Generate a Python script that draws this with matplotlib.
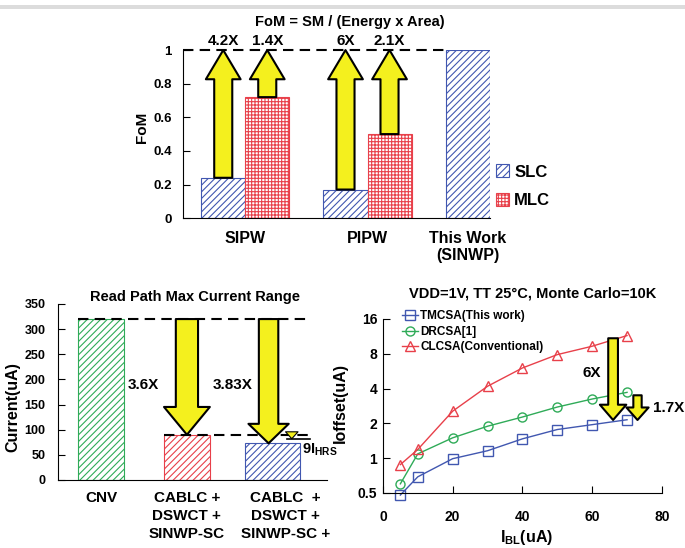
import numpy as np
import matplotlib
matplotlib.use('Agg')
import matplotlib.pyplot as plt
from matplotlib.patches import Rectangle
from matplotlib.ticker import NullLocator

# ---- FoM chart (top)
fom_groups = ['SIPW', 'PIPW', 'This Work\n(SINWP)']
fom_slc = [0.24, 0.17, 1.0]
fom_mlc = [0.72, 0.50]
fom_gain_slc = ['4.2X', '6X']
fom_gain_mlc = ['1.4X', '2.1X']

# ---- read path current (bottom left)
cur_names = ['CNV', 'CABLC +\nDSWCT +\nSINWP-SC', 'CABLC  +\nDSWCT +\nSINWP-SC +']
cur_vals = [320, 90, 73]
cur_gain = ['3.6X', '3.83X']
hrs_level = 82

# ---- offset vs I_BL (bottom right)
ibl = [5, 10, 20, 30, 40, 50, 60, 70]
off_tmcsa = [0.48, 0.69, 0.99, 1.16, 1.47, 1.77, 1.95, 2.15]
off_drcsa = [0.60, 1.09, 1.50, 1.89, 2.27, 2.77, 3.25, 3.71]
off_clcsa = [0.88, 1.19, 2.55, 4.19, 6.03, 7.87, 9.30, 11.5]

plt.rcParams['font.family'] = ['Liberation Sans', 'DejaVu Sans']
plt.rcParams['font.weight'] = 'bold'
plt.rcParams['axes.labelweight'] = 'bold'
plt.rcParams['hatch.linewidth'] = 0.8
plt.rcParams['mathtext.fontset'] = 'custom'
plt.rcParams['mathtext.rm'] = 'Liberation Sans:bold'
plt.rcParams['mathtext.bf'] = 'Liberation Sans:bold'
plt.rcParams['mathtext.it'] = 'Liberation Sans:bold'

BLUE = '#4157b0'
RED = '#e8404a'
GREEN = '#2fab58'
YEL = '#f4f01e'


def block_arrow(ax, x, y0, y1, tail, hw, hl, lw=1.5):
    ax.annotate('', xy=(x, y1), xytext=(x, y0),
                arrowprops=dict(arrowstyle='simple,head_length=%g,head_width=%g,tail_width=%g' % (hl, hw, tail),
                                mutation_scale=1, fc=YEL, ec='black', lw=lw,
                                shrinkA=0, shrinkB=0),
                annotation_clip=False)


fig = plt.figure(figsize=(6.85, 5.48), dpi=100)
fig.add_artist(Rectangle((0, 1 - 9 / 548), 1, 4 / 548, transform=fig.transFigure,
                         color='#dcdcdc', lw=0))

# ================= top chart
ax1 = fig.add_axes([0.267, 0.602, 0.448, 0.3066])
w = 0.36
idx = np.arange(len(fom_groups))
ax1.bar(idx - w / 2, fom_slc, w, facecolor='white', edgecolor=BLUE, hatch='/////',
        lw=0.8, label='SLC')
ax1.bar(idx[:2] + w / 2, fom_mlc, w, facecolor='white', edgecolor=RED, hatch='+++++',
        lw=0.8, label='MLC')
ax1.set_xlim(-0.51, 2.0)
ax1.set_ylim(0, 1)
ax1.plot([-0.51, 2 - w], [1, 1], color='black', lw=1.5, ls=(0, (5, 3)), clip_on=False)
for i in range(2):
    block_arrow(ax1, i - w / 2, fom_slc[i], 1.0, 13, 25, 21)
    block_arrow(ax1, i + w / 2, fom_mlc[i], 1.0, 13, 25, 21)
    ax1.text(i - w / 2, 1.01, fom_gain_slc[i], ha='center', va='bottom', fontsize=11)
    ax1.text(i + w / 2, 1.01, fom_gain_mlc[i], ha='center', va='bottom', fontsize=11)
ax1.set_xticks([0, 1, 2 - w / 2])
ax1.set_xticklabels(fom_groups, fontsize=11.5)
ax1.tick_params(axis='x', length=0, pad=9)
ax1.set_yticks([0, 0.2, 0.4, 0.6, 0.8, 1.0])
ax1.set_yticklabels(['0', '0.2', '0.4', '0.6', '0.8', '1'], fontsize=9.5)
ax1.tick_params(axis='y', direction='in', length=5, pad=8)
ax1.set_ylabel('FoM', fontsize=11)
ax1.yaxis.set_label_coords(-0.112, 0.54)
for s in ['top', 'right']:
    ax1.spines[s].set_visible(False)
ax1.legend(loc='center left', bbox_to_anchor=(1.02, 0.19), frameon=False, fontsize=12,
           handlelength=0.8, handleheight=0.8, handletextpad=0.3, labelspacing=0.8,
           borderpad=0, borderaxespad=0)
fig.text(350 / 685, 1 - 22 / 548, 'FoM = SM / (Energy x Area)', ha='center', va='center',
         fontsize=10.5)

# ================= bottom left
ax2 = fig.add_axes([0.0847, 0.1241, 0.3927, 0.3212])
cols = [GREEN, RED, BLUE]
widths = [0.53, 0.53, 0.64]
for i in range(3):
    ax2.bar(i, cur_vals[i], widths[i], facecolor='white', edgecolor=cols[i],
            hatch='/////', lw=0.8)
ax2.set_xlim(-0.5, 2.63)
ax2.set_ylim(0, 350)
ax2.plot([-widths[0] / 2, 2.43], [cur_vals[0], cur_vals[0]], color='black', lw=1.5,
         ls=(0, (5, 3)))
ax2.plot([1 - widths[1] / 2, 2.41], [cur_vals[1], cur_vals[1]], color='black', lw=1.5,
         ls=(0, (5, 3)))
block_arrow(ax2, 1, cur_vals[0], cur_vals[1], 16, 33, 20)
block_arrow(ax2, 1.95, cur_vals[0], cur_vals[2], 14, 29, 14)
ax2.plot([2.16, 2.43], [hrs_level, hrs_level], color='black', lw=1.2)
block_arrow(ax2, 2.22, cur_vals[1], hrs_level, 3, 9, 5, lw=0.8)
ax2.text(2.34, 60, r'9I$_{\mathbf{HRS}}$', ha='left', va='center', fontsize=10.5)
ax2.text(0.31, 189, cur_gain[0], ha='left', va='center', fontsize=11)
ax2.text(1.30, 189, cur_gain[1], ha='left', va='center', fontsize=11)
ax2.set_xticks([0, 1, 2.15])
ax2.set_xticklabels(cur_names, fontsize=11, linespacing=1.35)
ax2.tick_params(axis='x', length=0, pad=8)
ax2.set_yticks(range(0, 351, 50))
ax2.tick_params(axis='y', direction='in', length=5, pad=9, labelsize=9)
ax2.set_ylabel('Current(uA)', fontsize=11.5)
ax2.yaxis.set_label_coords(-0.141, 0.415)
for s in ['top', 'right']:
    ax2.spines[s].set_visible(False)
fig.text(195 / 685, 1 - 297 / 548, 'Read Path Max Current Range', ha='center', va='center',
         fontsize=10.5)

# ================= bottom right
ax3 = fig.add_axes([0.559, 0.1004, 0.4073, 0.3175])
ax3.set_yscale('log', base=2)
ax3.plot(ibl, off_tmcsa, color=BLUE, lw=1, marker='s', ms=6.5, mfc='none', mew=1,
         label='TMCSA(This work)', clip_on=False)
ax3.plot(ibl, off_drcsa, color=GREEN, lw=1, marker='o', ms=6.5, mfc='none', mew=1,
         label='DRCSA[1]', clip_on=False)
ax3.plot(ibl, off_clcsa, color=RED, lw=1, marker='^', ms=7, mfc='none', mew=1,
         label='CLCSA(Conventional)', clip_on=False)
ax3.set_xlim(0, 80)
ax3.set_ylim(0.5, 16)
block_arrow(ax3, 66, 10.9, 2.14, 7, 19, 11)
block_arrow(ax3, 73, 3.5, 2.14, 6, 16, 9)
ax3.text(60, 5.46, '6X', ha='center', va='center', fontsize=11)
ax3.text(77.5, 2.72, '1.7X', ha='left', va='center', fontsize=11)
ax3.set_yticks([0.5, 1, 2, 4, 8, 16])
ax3.set_yticklabels(['0.5', '1', '2', '4', '8', '16'])
ax3.yaxis.set_minor_locator(NullLocator())
ax3.set_xticks(range(0, 81, 20))
ax3.tick_params(axis='both', direction='in', length=5, labelsize=10)
ax3.tick_params(axis='x', pad=12)
ax3.tick_params(axis='y', pad=4)
ax3.set_xlabel(r'I$_{\mathbf{BL}}$(uA)', fontsize=11.5)
ax3.xaxis.set_label_coords(0.516, -0.2)
ax3.set_ylabel('Ioffset(uA)', fontsize=11.5)
ax3.yaxis.set_label_coords(-0.125, 0.52)
for s in ['top', 'right']:
    ax3.spines[s].set_visible(False)
ax3.legend(loc='upper left', bbox_to_anchor=(0.07, 1.05), frameon=False, fontsize=8.5,
           handlelength=1.3, handletextpad=0.2, labelspacing=0.3, borderpad=0,
           borderaxespad=0)
fig.text(533 / 685, 1 - 293 / 548, 'VDD=1V, TT 25°C, Monte Carlo=10K', ha='center',
         va='center', fontsize=10.5)

fig.savefig('out.png', dpi=100)
